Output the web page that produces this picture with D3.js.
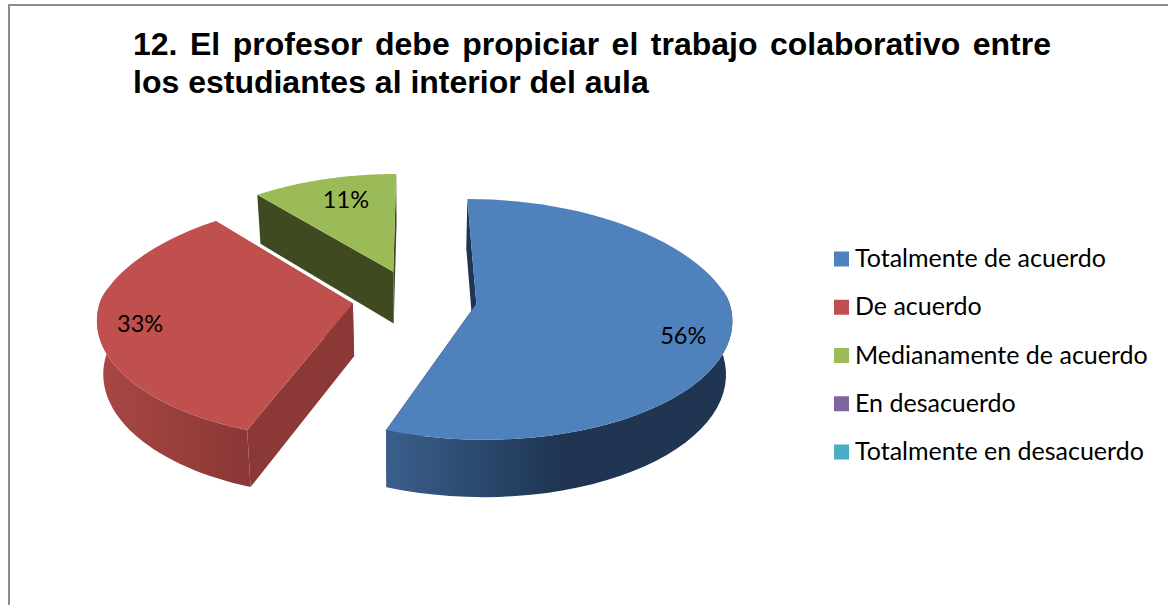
<!DOCTYPE html>
<html>
<head>
<meta charset="utf-8">
<script src="https://cdnjs.cloudflare.com/ajax/libs/d3/7.8.5/d3.min.js"></script>
<style>
  html, body { margin: 0; padding: 0; background: #fff; overflow: hidden; }
</style>
</head>
<body>
<svg id="chart" width="1168" height="605"></svg>
<script>
// Data
var titleLines = [
  "12. El profesor debe propiciar el trabajo colaborativo entre",
  "los estudiantes al interior del aula"
];
var categories = ["Totalmente de acuerdo", "De acuerdo", "Medianamente de acuerdo", "En desacuerdo", "Totalmente en desacuerdo"];
var values = [55.6, 33.3, 11.1, 0, 0];
var topColors = ["#4f81bd", "#c0504d", "#9bbb59", "#8064a2", "#4bacc6"];
var wallColors = ["#1f3552", "#8c3836", "#3f4a20", "#4d3b62", "#276a7c"];
var wallLight = ["#3a5f8c", "#a84745", "#5e7035", "#4d3b62", "#276a7c"];

// 3D look : perspective on the disc, the bottom plane is a bit smaller
var vx = 414, vy = 298.5, rx = 252, ry = 117, persp = 0.13;
var explode = [0.25, 0.245, 0.25];

function project(X, Y) {
  var sx = 1 / (1 - (Y < 0 ? 0.17 : 0.117) * Y);
  var sy = 1 / (1 - persp * Y);
  return [vx + rx * X * sx, vy + ry * Y * sy];
}
function lower(p) {
  // same point on the bottom of the pie
  return [vx + (p[0] - vx) * 0.98, p[1] + 49 + (p[1] - 194) * 0.034];
}

var svg = d3.select("#chart");
var defs = svg.append("defs");
var line = d3.line();

svg.append("rect")
  .attr("x", 9).attr("y", 5)
  .attr("width", 1300).attr("height", 800)
  .attr("fill", "#fff")
  .attr("stroke", "#8c8c8c")
  .attr("stroke-width", 2);

// Title
var title = svg.append("g").attr("font-family", "Liberation Sans").attr("font-weight", "bold").attr("font-size", 32).attr("fill", "#000");
title.selectAll("text").data(titleLines).enter().append("text")
  .attr("x", 133)
  .attr("y", function(d, i) { return 55 + i * 38; })
  .text(function(d) { return d; });
var first = title.select("text");
first.style("word-spacing", (918 - first.node().getComputedTextLength()) / (titleLines[0].split(" ").length - 1) + "px");

// Pie
var pie = d3.pie().sort(null);
var slices = pie(values).filter(function(d) { return d.value > 0; });
var gPie = svg.append("g");

// gradient range of the outer walls
var gradX = [[387, 560], [100, 244], [257, 397]];

function offset(d) {
  var mid = (d.startAngle + d.endAngle) / 2;
  return [explode[d.index] * Math.sin(mid), -explode[d.index] * Math.cos(mid)];
}

slices.forEach(function(d) {
  var i = d.index;
  var o = offset(d);
  var apex = project(o[0], o[1]);
  var angles = d3.range(0, 61).map(function(k) {
    return d.startAngle + (d.endAngle - d.startAngle) * k / 60;
  });
  var arc = angles.map(function(a) {
    return project(o[0] + Math.sin(a), o[1] - Math.cos(a));
  });
  // only the front of the outer wall can be seen
  var front = angles.filter(function(a) { return Math.cos(a) < 0.17; }).map(function(a) {
    return project(o[0] + Math.sin(a), o[1] - Math.cos(a));
  });

  defs.append("linearGradient")
    .attr("id", "wall" + i)
    .attr("gradientUnits", "userSpaceOnUse")
    .attr("x1", gradX[i][0]).attr("x2", gradX[i][1]).attr("y1", 0).attr("y2", 0)
    .selectAll("stop")
    .data([wallLight[i], wallColors[i]])
    .enter().append("stop")
    .attr("offset", function(c, j) { return j; })
    .attr("stop-color", function(c) { return c; });

  // radial walls
  [arc[0], arc[60]].forEach(function(p) {
    gPie.append("path")
      .attr("d", line([apex, p, lower(p), lower(apex)]) + "Z")
      .attr("fill", wallColors[i]);
  });
  // outer wall
  if (front.length) {
    gPie.append("path")
      .attr("d", line(front.concat(front.map(lower).reverse())) + "Z")
      .attr("fill", "url(#wall" + i + ")");
  }
  // top
  gPie.append("path")
    .attr("d", line([apex].concat(arc)) + "Z")
    .attr("fill", topColors[i]);
});

// Percent labels
var labelR = [0.8, 0.9, 0.55];
var labelDx = [3, 17, -7];
var labelDy = [23, 10, -10];
svg.append("g").selectAll("text").data(slices).enter().append("text")
  .attr("font-family", "Lato").attr("font-size", 23.5).attr("fill", "#000")
  .attr("text-anchor", "middle")
  .attr("transform", function(d) {
    var mid = (d.startAngle + d.endAngle) / 2;
    var o = offset(d);
    var p = project(o[0] + labelR[d.index] * Math.sin(mid), o[1] - labelR[d.index] * Math.cos(mid));
    return "translate(" + (p[0] + labelDx[d.index]) + "," + (p[1] + labelDy[d.index]) + ")";
  })
  .text(function(d) { return Math.round(d.value) + "%"; });

// Legend
var legendY = d3.scalePoint().domain(categories).range([259, 452]);
var legend = svg.append("g").selectAll("g").data(categories).enter().append("g")
  .attr("transform", function(d) { return "translate(834," + legendY(d) + ")"; });
legend.append("rect")
  .attr("x", 0).attr("y", -7.5).attr("width", 15).attr("height", 15)
  .attr("fill", function(d, i) { return topColors[i]; });
legend.append("text")
  .attr("x", 21).attr("y", 8)
  .attr("font-family", "Lato").attr("font-size", 25).attr("fill", "#000")
  .text(function(d) { return d; });
</script>
</body>
</html>
